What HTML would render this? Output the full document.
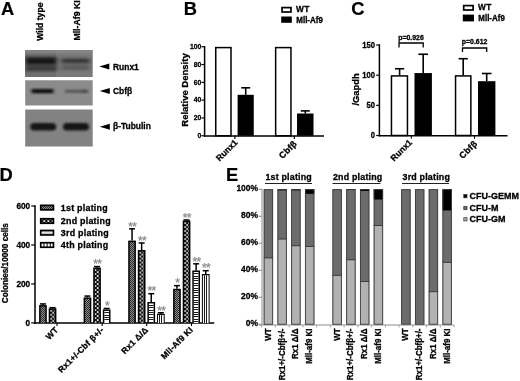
<!DOCTYPE html>
<html><head><meta charset="utf-8"><title>Figure</title>
<style>html,body{margin:0;padding:0;background:#fff;}svg{display:block;will-change:transform;}text{font-family:'Liberation Sans', sans-serif;}</style>
</head><body>
<svg width="520" height="381" viewBox="0 0 520 381">
<defs>
<filter id="b1" x="-20%" y="-50%" width="140%" height="200%"><feGaussianBlur stdDeviation="1.6 1.1"/></filter>
<filter id="b2" x="-20%" y="-50%" width="140%" height="200%"><feGaussianBlur stdDeviation="1.2 0.8"/></filter>
<filter id="b3" x="-20%" y="-50%" width="140%" height="200%"><feGaussianBlur stdDeviation="1.9 1.7"/></filter>
<filter id="soft"><feGaussianBlur stdDeviation="0.35"/></filter>
<pattern id="p1" width="2" height="2" patternUnits="userSpaceOnUse"><rect width="2" height="2" fill="#8c8c8c"/><rect width="1" height="1" fill="#2a2a2a"/><rect x="1" y="1" width="1" height="1" fill="#2a2a2a"/></pattern>
<pattern id="p2" width="4.3" height="4" patternUnits="userSpaceOnUse"><rect width="4.3" height="4" fill="#080808"/><rect x="0.3" y="0.2" width="1.7" height="1.7" fill="#fff"/><rect x="2.45" y="2.2" width="1.7" height="1.7" fill="#fff"/></pattern>
<pattern id="p3" width="4" height="2.5" patternUnits="userSpaceOnUse"><rect width="4" height="2.5" fill="#fff"/><rect width="4" height="1" fill="#333"/></pattern>
<pattern id="p4" width="2.4" height="4" patternUnits="userSpaceOnUse"><rect width="2.4" height="4" fill="#fff"/><rect width="1" height="4" fill="#333"/></pattern>
<clipPath id="c1"><rect x="25.2" y="50.1" width="67.5" height="26.8"/></clipPath>
<clipPath id="c2"><rect x="25.2" y="80.3" width="67.5" height="25.2"/></clipPath>
<clipPath id="c3"><rect x="25.2" y="109.4" width="67.5" height="37"/></clipPath>
</defs>
<rect width="520" height="381" fill="#fff"/>
<text x="0.9" y="14.8" font-size="18.3" text-anchor="start" fill="#000" stroke="#000" stroke-width="0.2" font-weight="bold">A</text>
<text x="43.3" y="40.7" font-size="8.6" text-anchor="start" fill="#000" stroke="#000" stroke-width="0.3" font-weight="bold" transform="rotate(-90 43.3 40.7)">Wild type</text>
<text x="80.2" y="40.6" font-size="8.75" text-anchor="start" fill="#000" stroke="#000" stroke-width="0.3" font-weight="bold" transform="rotate(-90 80.2 40.6)">Mll-Af9 KI</text>
<g clip-path="url(#c1)">
<rect x="25.00" y="50.00" width="68.00" height="27.00" fill="#7a7a7a"/>
<rect x="25.00" y="50.00" width="31.00" height="27.00" fill="#717171"/>
<rect x="25.00" y="50.00" width="68.00" height="3.00" fill="#8a8a8a" filter="url(#b2)"/>
<g filter="url(#b3)">
<rect x="25.00" y="56.50" width="32.00" height="15.00" fill="#555555"/>
<rect x="61.00" y="57.50" width="29.00" height="13.00" fill="#6a6a6a"/>
<rect x="25.50" y="57.20" width="31.00" height="7.40" fill="#141414"/>
<rect x="25.50" y="66.40" width="31.00" height="4.60" fill="#383838"/>
<rect x="61.50" y="58.80" width="28.00" height="4.20" fill="#2c2c2c"/>
<rect x="61.50" y="66.00" width="28.00" height="3.60" fill="#565656"/>
</g></g>
<g clip-path="url(#c2)">
<rect x="25.00" y="80.00" width="68.00" height="26.00" fill="#8b8b8b"/>
<g filter="url(#b1)">
<rect x="31.50" y="89.00" width="22.00" height="4.20" fill="#101010"/>
<rect x="65.00" y="89.80" width="23.00" height="3.00" fill="#555"/>
<rect x="82.00" y="89.80" width="6.00" height="3.00" fill="#4a4a4a"/>
</g></g>
<g clip-path="url(#c3)">
<rect x="25.00" y="109.00" width="68.00" height="38.00" fill="#828282"/>
<g filter="url(#b2)">
<rect x="30.3" y="123.0" width="25.8" height="7.6" rx="3.8" fill="#121212"/>
<rect x="63" y="123.0" width="26" height="7.6" rx="3.8" fill="#121212"/>
</g></g>
<polygon points="99.3,66.4 109.3,63.400000000000006 109.3,69.4" fill="#000"/>
<text x="0" y="0" font-size="8.9" text-anchor="start" fill="#000" stroke="#000" stroke-width="0.3" font-weight="bold" transform="translate(113 69.6) scale(0.95 1)">Runx1</text>
<polygon points="99.8,90.9 109.8,87.9 109.8,93.9" fill="#000"/>
<text x="0" y="0" font-size="8.9" text-anchor="start" fill="#000" stroke="#000" stroke-width="0.3" font-weight="bold" transform="translate(113 94.1) scale(0.95 1)">Cbfβ</text>
<polygon points="99.8,126.8 109.8,123.8 109.8,129.8" fill="#000"/>
<text x="0" y="0" font-size="8.9" text-anchor="start" fill="#000" stroke="#000" stroke-width="0.3" font-weight="bold" transform="translate(113 129.4) scale(0.95 1)">β-Tubulin</text>
<text x="183.8" y="14.8" font-size="18.3" text-anchor="start" fill="#000" stroke="#000" stroke-width="0.2" font-weight="bold">B</text>
<rect x="282.05" y="7.60" width="8.90" height="4.40" fill="#fff" stroke="#000" stroke-width="1.7"/>
<text x="296.0" y="12.4" font-size="8.3" text-anchor="start" fill="#000" stroke="#000" stroke-width="0.3" font-weight="bold" letter-spacing="0.3">WT</text>
<rect x="281.20" y="16.50" width="10.60" height="6.30" fill="#000"/>
<text x="0" y="0" font-size="8.3" text-anchor="start" fill="#000" stroke="#000" stroke-width="0.3" font-weight="bold" transform="translate(296.3 22.8) scale(0.96 1)">Mll-Af9</text>
<line x1="204.6" y1="46.0" x2="204.6" y2="136.7" stroke="#000" stroke-width="1.5"/>
<line x1="203.9" y1="135.95" x2="324" y2="135.95" stroke="#000" stroke-width="1.5"/>
<line x1="201.4" y1="135.75" x2="204.6" y2="135.75" stroke="#000" stroke-width="1.2"/>
<text x="0" y="0" font-size="8.1" text-anchor="end" fill="#000" stroke="#000" stroke-width="0.3" font-weight="bold" transform="translate(201.3 138.05) scale(0.84 1)">0</text>
<line x1="201.4" y1="117.95" x2="204.6" y2="117.95" stroke="#000" stroke-width="1.2"/>
<text x="0" y="0" font-size="8.1" text-anchor="end" fill="#000" stroke="#000" stroke-width="0.3" font-weight="bold" transform="translate(201.3 120.25) scale(0.84 1)">20</text>
<line x1="201.4" y1="100.15" x2="204.6" y2="100.15" stroke="#000" stroke-width="1.2"/>
<text x="0" y="0" font-size="8.1" text-anchor="end" fill="#000" stroke="#000" stroke-width="0.3" font-weight="bold" transform="translate(201.3 102.45) scale(0.84 1)">40</text>
<line x1="201.4" y1="82.35" x2="204.6" y2="82.35" stroke="#000" stroke-width="1.2"/>
<text x="0" y="0" font-size="8.1" text-anchor="end" fill="#000" stroke="#000" stroke-width="0.3" font-weight="bold" transform="translate(201.3 84.64999999999999) scale(0.84 1)">60</text>
<line x1="201.4" y1="64.55" x2="204.6" y2="64.55" stroke="#000" stroke-width="1.2"/>
<text x="0" y="0" font-size="8.1" text-anchor="end" fill="#000" stroke="#000" stroke-width="0.3" font-weight="bold" transform="translate(201.3 66.85) scale(0.84 1)">80</text>
<line x1="201.4" y1="46.75" x2="204.6" y2="46.75" stroke="#000" stroke-width="1.2"/>
<text x="0" y="0" font-size="8.1" text-anchor="end" fill="#000" stroke="#000" stroke-width="0.3" font-weight="bold" transform="translate(201.3 49.05) scale(0.84 1)">100</text>
<text x="188.0" y="90" font-size="9.5" text-anchor="middle" fill="#000" stroke="#000" stroke-width="0.3" font-weight="bold" transform="rotate(-90 188.0 90)">Relative Density</text>
<rect x="215.75" y="47.60" width="15.25" height="88.15" fill="#fff" stroke="#000" stroke-width="1.5"/>
<rect x="237.60" y="94.81" width="16.15" height="40.94" fill="#000"/>
<line x1="245.7" y1="94.81" x2="245.7" y2="87.8" stroke="#000" stroke-width="1.6"/>
<line x1="241.2" y1="87.8" x2="250.2" y2="87.8" stroke="#000" stroke-width="1.6"/>
<rect x="275.65" y="47.60" width="15.30" height="88.15" fill="#fff" stroke="#000" stroke-width="1.5"/>
<rect x="297.00" y="113.50" width="16.50" height="22.25" fill="#000"/>
<line x1="305.3" y1="113.5" x2="305.3" y2="110.9" stroke="#000" stroke-width="1.6"/>
<line x1="300.8" y1="110.9" x2="309.8" y2="110.9" stroke="#000" stroke-width="1.6"/>
<line x1="234.9" y1="135.75" x2="234.9" y2="139" stroke="#000" stroke-width="1.2"/>
<line x1="294.3" y1="135.75" x2="294.3" y2="139" stroke="#000" stroke-width="1.2"/>
<text x="238.3" y="143.0" font-size="8.7" text-anchor="end" fill="#000" stroke="#000" stroke-width="0.3" font-weight="bold" transform="rotate(-45 238.3 143.0)">Runx1</text>
<text x="297.6" y="144.2" font-size="8.8" text-anchor="end" fill="#000" stroke="#000" stroke-width="0.3" font-weight="bold" transform="rotate(-45 297.6 144.2)" letter-spacing="0.35">Cbfβ</text>
<text x="351.2" y="14.9" font-size="18.3" text-anchor="start" fill="#000" stroke="#000" stroke-width="0.2" font-weight="bold">C</text>
<rect x="463.70" y="5.60" width="9.40" height="4.40" fill="#fff" stroke="#000" stroke-width="1.7"/>
<text x="478.0" y="10.3" font-size="8.3" text-anchor="start" fill="#000" stroke="#000" stroke-width="0.3" font-weight="bold" letter-spacing="0.3">WT</text>
<rect x="462.80" y="14.60" width="11.20" height="6.80" fill="#000"/>
<text x="0" y="0" font-size="8.3" text-anchor="start" fill="#000" stroke="#000" stroke-width="0.3" font-weight="bold" transform="translate(478.3 20.9) scale(0.96 1)">Mll-Af9</text>
<line x1="379.4" y1="44.3" x2="379.4" y2="136.4" stroke="#000" stroke-width="1.5"/>
<line x1="378.7" y1="135.7" x2="507.5" y2="135.7" stroke="#000" stroke-width="1.5"/>
<line x1="376.2" y1="135.5" x2="379.4" y2="135.5" stroke="#000" stroke-width="1.2"/>
<text x="0" y="0" font-size="8.6" text-anchor="end" fill="#000" stroke="#000" stroke-width="0.3" font-weight="bold" transform="translate(375.0 138.1) scale(0.89 1)">0</text>
<line x1="376.2" y1="105.33333333333333" x2="379.4" y2="105.33333333333333" stroke="#000" stroke-width="1.2"/>
<text x="0" y="0" font-size="8.6" text-anchor="end" fill="#000" stroke="#000" stroke-width="0.3" font-weight="bold" transform="translate(375.0 107.93333333333332) scale(0.89 1)">50</text>
<line x1="376.2" y1="75.16666666666666" x2="379.4" y2="75.16666666666666" stroke="#000" stroke-width="1.2"/>
<text x="0" y="0" font-size="8.6" text-anchor="end" fill="#000" stroke="#000" stroke-width="0.3" font-weight="bold" transform="translate(375.0 77.76666666666665) scale(0.89 1)">100</text>
<line x1="376.2" y1="45.0" x2="379.4" y2="45.0" stroke="#000" stroke-width="1.2"/>
<text x="0" y="0" font-size="8.6" text-anchor="end" fill="#000" stroke="#000" stroke-width="0.3" font-weight="bold" transform="translate(375.0 47.6) scale(0.89 1)">150</text>
<text x="358.8" y="89.4" font-size="9.4" text-anchor="middle" fill="#000" stroke="#000" stroke-width="0.3" font-weight="bold" transform="rotate(-90 358.8 89.4)">/Gapdh</text>
<rect x="391.45" y="75.92" width="16.00" height="59.58" fill="#fff" stroke="#000" stroke-width="1.5"/>
<line x1="399.6" y1="75.16666666666666" x2="399.6" y2="68.75" stroke="#000" stroke-width="1.6"/>
<line x1="395.0" y1="68.75" x2="404.20000000000005" y2="68.75" stroke="#000" stroke-width="1.6"/>
<rect x="414.50" y="73.06" width="17.40" height="62.44" fill="#000"/>
<line x1="423.2" y1="73.055" x2="423.2" y2="54.25" stroke="#000" stroke-width="1.6"/>
<line x1="418.4" y1="54.25" x2="428.0" y2="54.25" stroke="#000" stroke-width="1.6"/>
<rect x="455.55" y="75.92" width="15.30" height="59.58" fill="#fff" stroke="#000" stroke-width="1.5"/>
<line x1="463.2" y1="75.16666666666666" x2="463.2" y2="58.7" stroke="#000" stroke-width="1.6"/>
<line x1="458.59999999999997" y1="58.7" x2="467.8" y2="58.7" stroke="#000" stroke-width="1.6"/>
<rect x="478.00" y="81.20" width="17.40" height="54.30" fill="#000"/>
<line x1="486.7" y1="81.2" x2="486.7" y2="73.5" stroke="#000" stroke-width="1.6"/>
<line x1="481.9" y1="73.5" x2="491.5" y2="73.5" stroke="#000" stroke-width="1.6"/>
<line x1="411.25" y1="135.5" x2="411.25" y2="138.8" stroke="#000" stroke-width="1.1"/>
<line x1="474.5" y1="135.5" x2="474.5" y2="138.8" stroke="#000" stroke-width="1.1"/>
<text x="412.7" y="143.1" font-size="8.6" text-anchor="end" fill="#000" stroke="#000" stroke-width="0.3" font-weight="bold" transform="rotate(-45 412.7 143.1)">Runx1</text>
<text x="478" y="144.1" font-size="8.8" text-anchor="end" fill="#000" stroke="#000" stroke-width="0.3" font-weight="bold" transform="rotate(-45 478 144.1)" letter-spacing="0.35">Cbfβ</text>
<polyline points="399,47.5 399,43 423.2,43 423.2,47.5" fill="none" stroke="#000" stroke-width="1.3"/>
<text x="411" y="39.5" font-size="6.9" text-anchor="middle" fill="#000" stroke="#000" stroke-width="0.3" font-weight="bold">p=0.926</text>
<polyline points="462.5,52 462.5,48 486.7,48 486.7,52" fill="none" stroke="#000" stroke-width="1.3"/>
<text x="474.6" y="43.6" font-size="6.9" text-anchor="middle" fill="#000" stroke="#000" stroke-width="0.3" font-weight="bold">p=0.612</text>
<text x="-0.4" y="180.9" font-size="18.3" text-anchor="start" fill="#000" stroke="#000" stroke-width="0.2" font-weight="bold">D</text>
<line x1="35.0" y1="205.3" x2="35.0" y2="323.7" stroke="#000" stroke-width="1.5"/>
<line x1="34.3" y1="322.9" x2="214.3" y2="322.9" stroke="#000" stroke-width="1.5"/>
<line x1="31.2" y1="322.9" x2="35.0" y2="322.9" stroke="#000" stroke-width="1.2"/>
<text x="0" y="0" font-size="8.8" text-anchor="end" fill="#000" stroke="#000" stroke-width="0.3" font-weight="bold" transform="translate(30.2 325.79999999999995) scale(0.94 1)">0</text>
<line x1="31.2" y1="283.94" x2="35.0" y2="283.94" stroke="#000" stroke-width="1.2"/>
<text x="0" y="0" font-size="8.8" text-anchor="end" fill="#000" stroke="#000" stroke-width="0.3" font-weight="bold" transform="translate(30.2 286.84) scale(0.94 1)">200</text>
<line x1="31.2" y1="244.97999999999996" x2="35.0" y2="244.97999999999996" stroke="#000" stroke-width="1.2"/>
<text x="0" y="0" font-size="8.8" text-anchor="end" fill="#000" stroke="#000" stroke-width="0.3" font-weight="bold" transform="translate(30.2 247.87999999999997) scale(0.94 1)">400</text>
<line x1="31.2" y1="206.01999999999998" x2="35.0" y2="206.01999999999998" stroke="#000" stroke-width="1.2"/>
<text x="0" y="0" font-size="8.8" text-anchor="end" fill="#000" stroke="#000" stroke-width="0.3" font-weight="bold" transform="translate(30.2 208.92) scale(0.94 1)">600</text>
<text x="8.3" y="263.2" font-size="8.2" text-anchor="middle" fill="#000" stroke="#000" stroke-width="0.3" font-weight="bold" transform="rotate(-90 8.3 263.2)">Colonies/10000 cells</text>
<rect x="40.75" y="205.35" width="12.7" height="4.5" fill="url(#p1)" stroke="#000" stroke-width="1.7"/>
<text x="60.8" y="210.7" font-size="8.9" text-anchor="start" fill="#000" stroke="#000" stroke-width="0.3" font-weight="bold" letter-spacing="0.25">1st plating</text>
<rect x="40.75" y="218.75" width="12.7" height="4.5" fill="url(#p2)" stroke="#000" stroke-width="1.7"/>
<text x="60.8" y="224.1" font-size="8.9" text-anchor="start" fill="#000" stroke="#000" stroke-width="0.3" font-weight="bold" letter-spacing="0.25">2nd plating</text>
<rect x="40.75" y="230.45" width="12.7" height="4.5" fill="#c0c0c0" stroke="#000" stroke-width="1.7"/>
<line x1="41.6" y1="232.7" x2="52.6" y2="232.7" stroke="#e8e8e8" stroke-width="1.0"/>
<text x="60.8" y="235.79999999999998" font-size="8.9" text-anchor="start" fill="#000" stroke="#000" stroke-width="0.3" font-weight="bold" letter-spacing="0.25">3rd plating</text>
<rect x="40.75" y="242.75" width="12.7" height="4.5" fill="#fff" stroke="#000" stroke-width="1.7"/>
<line x1="43.925" y1="242.75" x2="43.925" y2="247.25" stroke="#111" stroke-width="1.1"/>
<line x1="47.1" y1="242.75" x2="47.1" y2="247.25" stroke="#111" stroke-width="1.1"/>
<line x1="50.275" y1="242.75" x2="50.275" y2="247.25" stroke="#111" stroke-width="1.1"/>
<text x="60.8" y="248.1" font-size="8.9" text-anchor="start" fill="#000" stroke="#000" stroke-width="0.3" font-weight="bold" letter-spacing="0.25">4th plating</text>
<line x1="42.95" y1="305.10333333333335" x2="42.95" y2="303.92333333333335" stroke="#000" stroke-width="1.5"/>
<line x1="39.95" y1="303.92333333333335" x2="45.95" y2="303.92333333333335" stroke="#000" stroke-width="1.5"/>
<rect x="39.10" y="305.10" width="7.70" height="17.90" fill="#000"/>
<rect x="40.60" y="306.60" width="4.70" height="16.40" fill="url(#p1)"/>
<line x1="52.550000000000004" y1="308.25" x2="52.550000000000004" y2="307.66" stroke="#000" stroke-width="1.5"/>
<line x1="49.550000000000004" y1="307.66" x2="55.550000000000004" y2="307.66" stroke="#000" stroke-width="1.5"/>
<rect x="48.70" y="308.25" width="7.70" height="14.75" fill="#000"/>
<g transform="translate(49.90 309.75)"><rect x="0.3" y="0" width="4.70" height="13.25" fill="url(#p2)"/></g>
<line x1="87.45" y1="297.43333333333334" x2="87.45" y2="296.0566666666667" stroke="#000" stroke-width="1.5"/>
<line x1="84.45" y1="296.0566666666667" x2="90.45" y2="296.0566666666667" stroke="#000" stroke-width="1.5"/>
<rect x="83.60" y="297.43" width="7.70" height="25.57" fill="#000"/>
<rect x="85.10" y="298.93" width="4.70" height="24.07" fill="url(#p1)"/>
<line x1="97.05" y1="267.54" x2="97.05" y2="266.5566666666667" stroke="#000" stroke-width="1.5"/>
<line x1="94.05" y1="266.5566666666667" x2="100.05" y2="266.5566666666667" stroke="#000" stroke-width="1.5"/>
<rect x="93.20" y="267.54" width="7.70" height="55.46" fill="#000"/>
<g transform="translate(94.40 269.04)"><rect x="0.3" y="0" width="4.70" height="53.96" fill="url(#p2)"/></g>
<text x="97.35" y="268.3566666666667" font-size="12" text-anchor="middle" fill="#8a8a8a" stroke="#8a8a8a" stroke-width="0.25" font-weight="normal" letter-spacing="-0.7">**</text>
<line x1="106.65" y1="309.43" x2="106.65" y2="308.44666666666666" stroke="#000" stroke-width="1.5"/>
<line x1="103.65" y1="308.44666666666666" x2="109.65" y2="308.44666666666666" stroke="#000" stroke-width="1.5"/>
<rect x="102.80" y="309.43" width="7.70" height="13.57" fill="#000"/>
<rect x="104.30" y="310.93" width="4.70" height="12.07" fill="#fff"/>
<rect x="104.30" y="312.00" width="4.70" height="1.00" fill="#1a1a1a"/>
<rect x="104.30" y="315.00" width="4.70" height="1.00" fill="#1a1a1a"/>
<rect x="104.30" y="317.00" width="4.70" height="1.00" fill="#1a1a1a"/>
<rect x="104.30" y="319.00" width="4.70" height="1.00" fill="#1a1a1a"/>
<text x="106.95" y="310.24666666666667" font-size="12" text-anchor="middle" fill="#8a8a8a" stroke="#8a8a8a" stroke-width="0.25" font-weight="normal" letter-spacing="-0.7">*</text>
<line x1="132.05" y1="240.59666666666666" x2="132.05" y2="228.79666666666668" stroke="#000" stroke-width="1.5"/>
<line x1="129.05" y1="228.79666666666668" x2="135.05" y2="228.79666666666668" stroke="#000" stroke-width="1.5"/>
<rect x="128.20" y="240.60" width="7.70" height="82.40" fill="#000"/>
<rect x="129.70" y="242.10" width="4.70" height="80.90" fill="url(#p1)"/>
<text x="132.35000000000002" y="230.5966666666667" font-size="12" text-anchor="middle" fill="#8a8a8a" stroke="#8a8a8a" stroke-width="0.25" font-weight="normal" letter-spacing="-0.7">**</text>
<line x1="141.65" y1="250.0366666666667" x2="141.65" y2="242.95666666666668" stroke="#000" stroke-width="1.5"/>
<line x1="138.65" y1="242.95666666666668" x2="144.65" y2="242.95666666666668" stroke="#000" stroke-width="1.5"/>
<rect x="137.80" y="250.04" width="7.70" height="72.96" fill="#000"/>
<g transform="translate(139.00 251.54)"><rect x="0.3" y="0" width="4.70" height="71.46" fill="url(#p2)"/></g>
<text x="141.95000000000002" y="244.7566666666667" font-size="12" text-anchor="middle" fill="#8a8a8a" stroke="#8a8a8a" stroke-width="0.25" font-weight="normal" letter-spacing="-0.7">**</text>
<line x1="151.25" y1="301.95666666666665" x2="151.25" y2="293.69666666666666" stroke="#000" stroke-width="1.5"/>
<line x1="148.25" y1="293.69666666666666" x2="154.25" y2="293.69666666666666" stroke="#000" stroke-width="1.5"/>
<rect x="147.40" y="301.96" width="7.70" height="21.04" fill="#000"/>
<rect x="148.90" y="303.46" width="4.70" height="19.54" fill="#fff"/>
<rect x="148.90" y="305.00" width="4.70" height="1.00" fill="#1a1a1a"/>
<rect x="148.90" y="307.00" width="4.70" height="1.00" fill="#1a1a1a"/>
<rect x="148.90" y="310.00" width="4.70" height="1.00" fill="#1a1a1a"/>
<rect x="148.90" y="312.00" width="4.70" height="1.00" fill="#1a1a1a"/>
<rect x="148.90" y="314.00" width="4.70" height="1.00" fill="#1a1a1a"/>
<rect x="148.90" y="317.00" width="4.70" height="1.00" fill="#1a1a1a"/>
<rect x="148.90" y="319.00" width="4.70" height="1.00" fill="#1a1a1a"/>
<rect x="148.90" y="322.00" width="4.70" height="1.00" fill="#1a1a1a"/>
<text x="151.55" y="295.49666666666667" font-size="12" text-anchor="middle" fill="#8a8a8a" stroke="#8a8a8a" stroke-width="0.25" font-weight="normal" letter-spacing="-0.7">**</text>
<line x1="160.85000000000002" y1="313.75666666666666" x2="160.85000000000002" y2="312.7733333333333" stroke="#000" stroke-width="1.5"/>
<line x1="157.85000000000002" y1="312.7733333333333" x2="163.85000000000002" y2="312.7733333333333" stroke="#000" stroke-width="1.5"/>
<rect x="157.00" y="313.76" width="7.70" height="9.24" fill="#000"/>
<rect x="158.00" y="314.96" width="5.70" height="8.04" fill="#fff"/>
<rect x="159.00" y="314.96" width="1.00" height="8.04" fill="#1a1a1a"/>
<rect x="161.00" y="314.96" width="1.00" height="8.04" fill="#1a1a1a"/>
<text x="161.15000000000003" y="314.5733333333333" font-size="12" text-anchor="middle" fill="#8a8a8a" stroke="#8a8a8a" stroke-width="0.25" font-weight="normal" letter-spacing="-0.7">**</text>
<line x1="176.95" y1="288.78" x2="176.95" y2="285.6333333333333" stroke="#000" stroke-width="1.5"/>
<line x1="173.95" y1="285.6333333333333" x2="179.95" y2="285.6333333333333" stroke="#000" stroke-width="1.5"/>
<rect x="173.10" y="288.78" width="7.70" height="34.22" fill="#000"/>
<rect x="174.60" y="290.28" width="4.70" height="32.72" fill="url(#p1)"/>
<text x="177.25" y="287.43333333333334" font-size="12" text-anchor="middle" fill="#8a8a8a" stroke="#8a8a8a" stroke-width="0.25" font-weight="normal" letter-spacing="-0.7">*</text>
<line x1="186.54999999999998" y1="220.5366666666667" x2="186.54999999999998" y2="219.94666666666666" stroke="#000" stroke-width="1.5"/>
<line x1="183.54999999999998" y1="219.94666666666666" x2="189.54999999999998" y2="219.94666666666666" stroke="#000" stroke-width="1.5"/>
<rect x="182.70" y="220.54" width="7.70" height="102.46" fill="#000"/>
<g transform="translate(183.90 222.04)"><rect x="0.3" y="0" width="4.70" height="100.96" fill="url(#p2)"/></g>
<text x="186.85" y="221.74666666666667" font-size="12" text-anchor="middle" fill="#8a8a8a" stroke="#8a8a8a" stroke-width="0.25" font-weight="normal" letter-spacing="-0.7">**</text>
<line x1="196.14999999999998" y1="270.49" x2="196.14999999999998" y2="263.80333333333334" stroke="#000" stroke-width="1.5"/>
<line x1="193.14999999999998" y1="263.80333333333334" x2="199.14999999999998" y2="263.80333333333334" stroke="#000" stroke-width="1.5"/>
<rect x="192.30" y="270.49" width="7.70" height="52.51" fill="#000"/>
<rect x="193.80" y="271.99" width="4.70" height="51.01" fill="#fff"/>
<rect x="193.80" y="273.00" width="4.70" height="1.00" fill="#1a1a1a"/>
<rect x="193.80" y="276.00" width="4.70" height="1.00" fill="#1a1a1a"/>
<rect x="193.80" y="278.00" width="4.70" height="1.00" fill="#1a1a1a"/>
<rect x="193.80" y="280.00" width="4.70" height="1.00" fill="#1a1a1a"/>
<rect x="193.80" y="283.00" width="4.70" height="1.00" fill="#1a1a1a"/>
<rect x="193.80" y="285.00" width="4.70" height="1.00" fill="#1a1a1a"/>
<rect x="193.80" y="288.00" width="4.70" height="1.00" fill="#1a1a1a"/>
<rect x="193.80" y="290.00" width="4.70" height="1.00" fill="#1a1a1a"/>
<rect x="193.80" y="292.00" width="4.70" height="1.00" fill="#1a1a1a"/>
<rect x="193.80" y="295.00" width="4.70" height="1.00" fill="#1a1a1a"/>
<rect x="193.80" y="297.00" width="4.70" height="1.00" fill="#1a1a1a"/>
<rect x="193.80" y="300.00" width="4.70" height="1.00" fill="#1a1a1a"/>
<rect x="193.80" y="302.00" width="4.70" height="1.00" fill="#1a1a1a"/>
<rect x="193.80" y="304.00" width="4.70" height="1.00" fill="#1a1a1a"/>
<rect x="193.80" y="307.00" width="4.70" height="1.00" fill="#1a1a1a"/>
<rect x="193.80" y="309.00" width="4.70" height="1.00" fill="#1a1a1a"/>
<rect x="193.80" y="312.00" width="4.70" height="1.00" fill="#1a1a1a"/>
<rect x="193.80" y="314.00" width="4.70" height="1.00" fill="#1a1a1a"/>
<rect x="193.80" y="316.00" width="4.70" height="1.00" fill="#1a1a1a"/>
<rect x="193.80" y="319.00" width="4.70" height="1.00" fill="#1a1a1a"/>
<rect x="193.80" y="321.00" width="4.70" height="1.00" fill="#1a1a1a"/>
<text x="196.45" y="265.60333333333335" font-size="12" text-anchor="middle" fill="#8a8a8a" stroke="#8a8a8a" stroke-width="0.25" font-weight="normal" letter-spacing="-0.7">**</text>
<line x1="205.75" y1="274.03" x2="205.75" y2="270.68666666666667" stroke="#000" stroke-width="1.5"/>
<line x1="202.75" y1="270.68666666666667" x2="208.75" y2="270.68666666666667" stroke="#000" stroke-width="1.5"/>
<rect x="201.90" y="274.03" width="7.70" height="48.97" fill="#000"/>
<rect x="202.90" y="275.23" width="5.70" height="47.77" fill="#fff"/>
<rect x="204.00" y="275.23" width="1.00" height="47.77" fill="#1a1a1a"/>
<rect x="206.00" y="275.23" width="1.00" height="47.77" fill="#1a1a1a"/>
<text x="206.05" y="272.4866666666667" font-size="12" text-anchor="middle" fill="#8a8a8a" stroke="#8a8a8a" stroke-width="0.25" font-weight="normal" letter-spacing="-0.7">**</text>
<line x1="57" y1="323" x2="57" y2="326" stroke="#000" stroke-width="1.1"/>
<line x1="102.2" y1="323" x2="102.2" y2="326" stroke="#000" stroke-width="1.1"/>
<line x1="146.7" y1="323" x2="146.7" y2="326" stroke="#000" stroke-width="1.1"/>
<line x1="191.5" y1="323" x2="191.5" y2="326" stroke="#000" stroke-width="1.1"/>
<text x="58.8" y="330.5" font-size="8.5" text-anchor="end" fill="#000" stroke="#000" stroke-width="0.3" font-weight="bold" transform="rotate(-45 58.8 330.5)" letter-spacing="0.2">WT</text>
<text x="104.3" y="330.5" font-size="8.5" text-anchor="end" fill="#000" stroke="#000" stroke-width="0.3" font-weight="bold" transform="rotate(-45 104.3 330.5)" letter-spacing="0.2">Rx1+/-Cbf β+/-</text>
<text x="148.8" y="330.5" font-size="8.5" text-anchor="end" fill="#000" stroke="#000" stroke-width="0.3" font-weight="bold" transform="rotate(-45 148.8 330.5)" letter-spacing="0.2">Rx1 Δ/Δ</text>
<text x="193.6" y="330.5" font-size="8.5" text-anchor="end" fill="#000" stroke="#000" stroke-width="0.3" font-weight="bold" transform="rotate(-45 193.6 330.5)" letter-spacing="0.2">Mll-Af9 KI</text>
<text x="225.9" y="180.9" font-size="18.3" text-anchor="start" fill="#000" stroke="#000" stroke-width="0.2" font-weight="bold">E</text>
<line x1="262" y1="189" x2="262" y2="325" stroke="#8c8c8c" stroke-width="1"/>
<line x1="258.5" y1="325" x2="454" y2="325" stroke="#8c8c8c" stroke-width="1"/>
<line x1="258.5" y1="324.25" x2="262" y2="324.25" stroke="#8c8c8c" stroke-width="1"/>
<text x="0" y="0" font-size="9.3" text-anchor="end" fill="#000" stroke="#000" stroke-width="0.3" font-weight="bold" transform="translate(258 326.45) scale(0.91 1)">0%</text>
<line x1="258.5" y1="297.25" x2="262" y2="297.25" stroke="#8c8c8c" stroke-width="1"/>
<text x="0" y="0" font-size="9.3" text-anchor="end" fill="#000" stroke="#000" stroke-width="0.3" font-weight="bold" transform="translate(258 299.45) scale(0.91 1)">20%</text>
<line x1="258.5" y1="270.25" x2="262" y2="270.25" stroke="#8c8c8c" stroke-width="1"/>
<text x="0" y="0" font-size="9.3" text-anchor="end" fill="#000" stroke="#000" stroke-width="0.3" font-weight="bold" transform="translate(258 272.45) scale(0.91 1)">40%</text>
<line x1="258.5" y1="243.25" x2="262" y2="243.25" stroke="#8c8c8c" stroke-width="1"/>
<text x="0" y="0" font-size="9.3" text-anchor="end" fill="#000" stroke="#000" stroke-width="0.3" font-weight="bold" transform="translate(258 245.45) scale(0.91 1)">60%</text>
<line x1="258.5" y1="216.25" x2="262" y2="216.25" stroke="#8c8c8c" stroke-width="1"/>
<text x="0" y="0" font-size="9.3" text-anchor="end" fill="#000" stroke="#000" stroke-width="0.3" font-weight="bold" transform="translate(258 218.45) scale(0.91 1)">80%</text>
<line x1="258.5" y1="189.25" x2="262" y2="189.25" stroke="#8c8c8c" stroke-width="1"/>
<text x="0" y="0" font-size="9.3" text-anchor="end" fill="#000" stroke="#000" stroke-width="0.3" font-weight="bold" transform="translate(258 191.45) scale(0.91 1)">100%</text>
<line x1="261.6" y1="325" x2="261.6" y2="327.6" stroke="#9a9a9a" stroke-width="0.8"/>
<line x1="275.35" y1="325" x2="275.35" y2="327.6" stroke="#9a9a9a" stroke-width="0.8"/>
<line x1="289.1" y1="325" x2="289.1" y2="327.6" stroke="#9a9a9a" stroke-width="0.8"/>
<line x1="302.85" y1="325" x2="302.85" y2="327.6" stroke="#9a9a9a" stroke-width="0.8"/>
<line x1="316.6" y1="325" x2="316.6" y2="327.6" stroke="#9a9a9a" stroke-width="0.8"/>
<line x1="330.35" y1="325" x2="330.35" y2="327.6" stroke="#9a9a9a" stroke-width="0.8"/>
<line x1="344.1" y1="325" x2="344.1" y2="327.6" stroke="#9a9a9a" stroke-width="0.8"/>
<line x1="357.85" y1="325" x2="357.85" y2="327.6" stroke="#9a9a9a" stroke-width="0.8"/>
<line x1="371.6" y1="325" x2="371.6" y2="327.6" stroke="#9a9a9a" stroke-width="0.8"/>
<line x1="385.35" y1="325" x2="385.35" y2="327.6" stroke="#9a9a9a" stroke-width="0.8"/>
<line x1="399.1" y1="325" x2="399.1" y2="327.6" stroke="#9a9a9a" stroke-width="0.8"/>
<line x1="412.85" y1="325" x2="412.85" y2="327.6" stroke="#9a9a9a" stroke-width="0.8"/>
<line x1="426.6" y1="325" x2="426.6" y2="327.6" stroke="#9a9a9a" stroke-width="0.8"/>
<line x1="440.35" y1="325" x2="440.35" y2="327.6" stroke="#9a9a9a" stroke-width="0.8"/>
<line x1="454.1" y1="325" x2="454.1" y2="327.6" stroke="#9a9a9a" stroke-width="0.8"/>
<text x="288.7" y="179.5" font-size="8.9" text-anchor="middle" fill="#000" stroke="#000" stroke-width="0.3" font-weight="bold" letter-spacing="0.2">1st plating</text>
<line x1="265" y1="183.5" x2="312" y2="183.5" stroke="#222" stroke-width="1.1"/>
<text x="357.7" y="179.5" font-size="8.9" text-anchor="middle" fill="#000" stroke="#000" stroke-width="0.3" font-weight="bold" letter-spacing="0.2">2nd plating</text>
<line x1="332.5" y1="183.5" x2="380.5" y2="183.5" stroke="#222" stroke-width="1.1"/>
<text x="426.3" y="179.5" font-size="8.9" text-anchor="middle" fill="#000" stroke="#000" stroke-width="0.3" font-weight="bold" letter-spacing="0.2">3rd plating</text>
<line x1="402" y1="183.5" x2="449" y2="183.5" stroke="#222" stroke-width="1.1"/>
<rect x="263.75" y="189.25" width="9.30" height="135.00" fill="#6c6c6c"/>
<rect x="263.75" y="258.10" width="9.30" height="66.15" fill="#b2b2b2"/>
<rect x="264.15" y="189.65" width="8.50" height="134.60" fill="none" stroke="#3c3c3c" stroke-width="0.9"/>
<line x1="263.75" y1="257.90000000000003" x2="273.05" y2="257.90000000000003" stroke="#3c3c3c" stroke-width="1.0"/>
<text x="0" y="0" font-size="9.0" text-anchor="end" fill="#000" stroke="#000" stroke-width="0.3" font-weight="bold" transform="translate(270.79999999999995 328.5) rotate(-90) scale(0.885 1)">WT</text>
<rect x="277.50" y="189.25" width="9.30" height="135.00" fill="#6c6c6c"/>
<rect x="277.50" y="239.20" width="9.30" height="85.05" fill="#b2b2b2"/>
<rect x="277.50" y="189.25" width="9.30" height="1.08" fill="#000"/>
<rect x="277.90" y="189.65" width="8.50" height="134.60" fill="none" stroke="#3c3c3c" stroke-width="0.9"/>
<line x1="277.5" y1="239.0" x2="286.8" y2="239.0" stroke="#3c3c3c" stroke-width="1.0"/>
<text x="0" y="0" font-size="9.0" text-anchor="end" fill="#000" stroke="#000" stroke-width="0.3" font-weight="bold" transform="translate(284.54999999999995 328.5) rotate(-90) scale(0.885 1)">Rx1+/-Cbfβ+/-</text>
<rect x="291.25" y="189.25" width="9.30" height="135.00" fill="#6c6c6c"/>
<rect x="291.25" y="245.95" width="9.30" height="78.30" fill="#b2b2b2"/>
<rect x="291.25" y="189.25" width="9.30" height="1.08" fill="#000"/>
<rect x="291.65" y="189.65" width="8.50" height="134.60" fill="none" stroke="#3c3c3c" stroke-width="0.9"/>
<line x1="291.25" y1="245.75" x2="300.55" y2="245.75" stroke="#3c3c3c" stroke-width="1.0"/>
<text x="0" y="0" font-size="9.0" text-anchor="end" fill="#000" stroke="#000" stroke-width="0.3" font-weight="bold" transform="translate(298.29999999999995 328.5) rotate(-90) scale(0.885 1)">Rx1 Δ/Δ</text>
<rect x="305.00" y="189.25" width="9.30" height="135.00" fill="#6c6c6c"/>
<rect x="305.00" y="246.62" width="9.30" height="77.62" fill="#b2b2b2"/>
<rect x="305.00" y="189.25" width="9.30" height="4.59" fill="#000"/>
<rect x="305.40" y="189.65" width="8.50" height="134.60" fill="none" stroke="#3c3c3c" stroke-width="0.9"/>
<line x1="305.0" y1="246.425" x2="314.3" y2="246.425" stroke="#3c3c3c" stroke-width="1.0"/>
<text x="0" y="0" font-size="9.0" text-anchor="end" fill="#000" stroke="#000" stroke-width="0.3" font-weight="bold" transform="translate(312.04999999999995 328.5) rotate(-90) scale(0.885 1)">Mll-af9 KI</text>
<rect x="332.50" y="189.25" width="9.30" height="135.00" fill="#6c6c6c"/>
<rect x="332.50" y="275.51" width="9.30" height="48.74" fill="#b2b2b2"/>
<rect x="332.90" y="189.65" width="8.50" height="134.60" fill="none" stroke="#3c3c3c" stroke-width="0.9"/>
<line x1="332.5" y1="275.315" x2="341.8" y2="275.315" stroke="#3c3c3c" stroke-width="1.0"/>
<text x="0" y="0" font-size="9.0" text-anchor="end" fill="#000" stroke="#000" stroke-width="0.3" font-weight="bold" transform="translate(339.54999999999995 328.5) rotate(-90) scale(0.885 1)">WT</text>
<rect x="346.25" y="189.25" width="9.30" height="135.00" fill="#6c6c6c"/>
<rect x="346.25" y="259.99" width="9.30" height="64.26" fill="#b2b2b2"/>
<rect x="346.25" y="189.25" width="9.30" height="0.68" fill="#000"/>
<rect x="346.65" y="189.65" width="8.50" height="134.60" fill="none" stroke="#3c3c3c" stroke-width="0.9"/>
<line x1="346.25" y1="259.79" x2="355.55" y2="259.79" stroke="#3c3c3c" stroke-width="1.0"/>
<text x="0" y="0" font-size="9.0" text-anchor="end" fill="#000" stroke="#000" stroke-width="0.3" font-weight="bold" transform="translate(353.29999999999995 328.5) rotate(-90) scale(0.885 1)">Rx1+/-Cbfβ+/-</text>
<rect x="360.00" y="189.25" width="9.30" height="135.00" fill="#6c6c6c"/>
<rect x="360.00" y="281.73" width="9.30" height="42.52" fill="#b2b2b2"/>
<rect x="360.00" y="189.25" width="9.30" height="1.75" fill="#000"/>
<rect x="360.40" y="189.65" width="8.50" height="134.60" fill="none" stroke="#3c3c3c" stroke-width="0.9"/>
<line x1="360.0" y1="281.52500000000003" x2="369.3" y2="281.52500000000003" stroke="#3c3c3c" stroke-width="1.0"/>
<text x="0" y="0" font-size="9.0" text-anchor="end" fill="#000" stroke="#000" stroke-width="0.3" font-weight="bold" transform="translate(367.04999999999995 328.5) rotate(-90) scale(0.885 1)">Rx1 Δ/Δ</text>
<rect x="373.75" y="189.25" width="9.30" height="135.00" fill="#6c6c6c"/>
<rect x="373.75" y="225.70" width="9.30" height="98.55" fill="#b2b2b2"/>
<rect x="373.75" y="189.25" width="9.30" height="10.26" fill="#000"/>
<rect x="374.15" y="189.65" width="8.50" height="134.60" fill="none" stroke="#3c3c3c" stroke-width="0.9"/>
<line x1="373.75" y1="225.5" x2="383.05" y2="225.5" stroke="#3c3c3c" stroke-width="1.0"/>
<text x="0" y="0" font-size="9.0" text-anchor="end" fill="#000" stroke="#000" stroke-width="0.3" font-weight="bold" transform="translate(380.79999999999995 328.5) rotate(-90) scale(0.885 1)">Mll-af9 KI</text>
<rect x="401.25" y="189.25" width="9.30" height="135.00" fill="#6c6c6c"/>
<rect x="401.65" y="189.65" width="8.50" height="134.60" fill="none" stroke="#3c3c3c" stroke-width="0.9"/>
<text x="0" y="0" font-size="9.0" text-anchor="end" fill="#000" stroke="#000" stroke-width="0.3" font-weight="bold" transform="translate(408.29999999999995 328.5) rotate(-90) scale(0.885 1)">WT</text>
<rect x="415.00" y="189.25" width="9.30" height="135.00" fill="#6c6c6c"/>
<rect x="415.40" y="189.65" width="8.50" height="134.60" fill="none" stroke="#3c3c3c" stroke-width="0.9"/>
<text x="0" y="0" font-size="9.0" text-anchor="end" fill="#000" stroke="#000" stroke-width="0.3" font-weight="bold" transform="translate(422.04999999999995 328.5) rotate(-90) scale(0.885 1)">Rx1+/-Cbfβ+/-</text>
<rect x="428.75" y="189.25" width="9.30" height="135.00" fill="#6c6c6c"/>
<rect x="428.75" y="291.85" width="9.30" height="32.40" fill="#b2b2b2"/>
<rect x="429.15" y="189.65" width="8.50" height="134.60" fill="none" stroke="#3c3c3c" stroke-width="0.9"/>
<line x1="428.75" y1="291.65000000000003" x2="438.05" y2="291.65000000000003" stroke="#3c3c3c" stroke-width="1.0"/>
<text x="0" y="0" font-size="9.0" text-anchor="end" fill="#000" stroke="#000" stroke-width="0.3" font-weight="bold" transform="translate(435.79999999999995 328.5) rotate(-90) scale(0.885 1)">Rx1 Δ/Δ</text>
<rect x="442.50" y="189.25" width="9.30" height="135.00" fill="#6c6c6c"/>
<rect x="442.50" y="262.56" width="9.30" height="61.69" fill="#b2b2b2"/>
<rect x="442.50" y="189.25" width="9.30" height="21.19" fill="#000"/>
<rect x="442.90" y="189.65" width="8.50" height="134.60" fill="none" stroke="#3c3c3c" stroke-width="0.9"/>
<line x1="442.5" y1="262.355" x2="451.8" y2="262.355" stroke="#3c3c3c" stroke-width="1.0"/>
<text x="0" y="0" font-size="9.0" text-anchor="end" fill="#000" stroke="#000" stroke-width="0.3" font-weight="bold" transform="translate(449.54999999999995 328.5) rotate(-90) scale(0.885 1)">Mll-af9 KI</text>
<rect x="463.8" y="194.60000000000002" width="3.2" height="3.2" fill="#000" stroke="#2a2a2a" stroke-width="0.7"/>
<text x="469.6" y="199.0" font-size="9" text-anchor="start" fill="#000" stroke="#000" stroke-width="0.3" font-weight="bold">CFU-GEMM</text>
<rect x="463.8" y="206.5" width="3.2" height="3.2" fill="#6c6c6c" stroke="#2a2a2a" stroke-width="0.7"/>
<text x="469.6" y="210.89999999999998" font-size="9" text-anchor="start" fill="#000" stroke="#000" stroke-width="0.3" font-weight="bold">CFU-M</text>
<rect x="463.8" y="217.70000000000002" width="3.2" height="3.2" fill="#b2b2b2" stroke="#2a2a2a" stroke-width="0.7"/>
<text x="469.6" y="222.1" font-size="9" text-anchor="start" fill="#000" stroke="#000" stroke-width="0.3" font-weight="bold">CFU-GM</text>
</svg></body></html>
